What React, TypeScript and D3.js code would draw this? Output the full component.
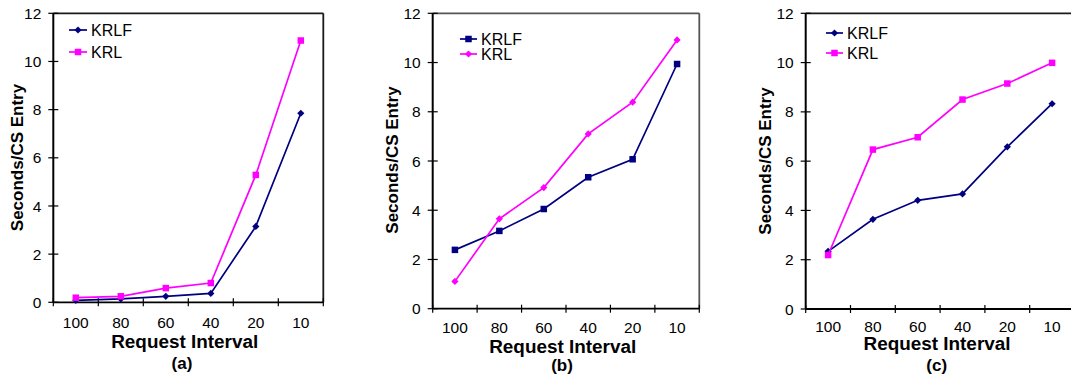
import React from "react";
import * as d3 from "d3";

const categories = ["100", "80", "60", "40", "20", "10"];
const yTicks = [0, 2, 4, 6, 8, 10, 12];
const seriesNames = ["KRLF", "KRL"];

const krlfA = [0.08, 0.14, 0.25, 0.37, 3.15, 7.85];
const krlA = [0.19, 0.25, 0.59, 0.8, 5.29, 10.87];
const krlfB = [2.39, 3.16, 4.05, 5.34, 6.07, 9.94];
const krlB = [1.11, 3.65, 4.92, 7.1, 8.39, 10.92];
const krlfC = [2.34, 3.64, 4.41, 4.67, 6.58, 8.33];
const krlC = [2.19, 6.47, 6.97, 8.5, 9.15, 9.99];

const captions = ["(a)", "(b)", "(c)"];

const NAVY = "#000080";
const MAGENTA = "#ff00ff";
const FONT = "'Liberation Sans', Arial, Helvetica, sans-serif";

type Layout = {
  x0: number; x1: number; y0: number; y1: number;
  frame: string; rightBorder: boolean;
  legX: number; legY: number[]; legLineW: number;
  tickBase: number; titleBase: number; titleX: number; capBase: number; capX: number;
  yLabX: number; yLabY: number;
  markers: string[];
};

const layouts: Layout[] = [
  { x0: 53.3, x1: 323.3, y0: 302.3, y1: 13.3, frame: "#1a1a1a", rightBorder: true,
    legX: 69, legY: [30, 52], legLineW: 18, tickBase: 328, titleBase: 347.5, titleX: 184.7,
    capBase: 369, capX: 182, yLabX: 16.7, yLabY: 157.5, markers: ["diamond", "square"] },
  { x0: 432.7, x1: 699.3, y0: 308.7, y1: 13.3, frame: "#555", rightBorder: true,
    legX: 460, legY: [39, 54], legLineW: 17, tickBase: 332.5, titleBase: 353, titleX: 562.7,
    capBase: 370.5, capX: 562, yLabX: 391.7, yLabY: 160, markers: ["square", "diamond"] },
  { x0: 805.7, x1: 1074.5, y0: 309, y1: 13.3, frame: "#1a1a1a", rightBorder: false,
    legX: 826, legY: [33, 53], legLineW: 17, tickBase: 332, titleBase: 350, titleX: 937,
    capBase: 371, capX: 936.7, yLabX: 765, yLabY: 161, markers: ["diamond", "square"] },
];

const panelData = [
  [krlfA, krlA],
  [krlfB, krlB],
  [krlfC, krlC],
];
const colors = [NAVY, MAGENTA];

function Marker({ kind, x, y, color }: { kind: string; x: number; y: number; color: string }) {
  if (kind === "square") {
    const s = 6.5;
    return <rect x={x - s / 2} y={y - s / 2} width={s} height={s} fill={color} />;
  }
  const r = 3.6;
  return (
    <path
      d={`M${x},${y - r}L${x + r},${y}L${x},${y + r}L${x - r},${y}Z`}
      fill={color}
    />
  );
}

function Panel({ idx }: { idx: number }) {
  const L = layouts[idx];
  const data = panelData[idx];
  const x = d3.scaleBand<string>().domain(categories).range([L.x0, L.x1]).padding(0);
  const y = d3.scaleLinear().domain([0, 12]).range([L.y0, L.y1]);
  const cx = (c: string) => (x(c) as number) + x.bandwidth() / 2;
  const line = d3
    .line<number>()
    .x((_, i) => cx(categories[i]))
    .y((d) => y(d));
  const bounds = [...categories.map((c) => x(c) as number), L.x1];

  return (
    <g fontFamily={FONT}>
      <line x1={L.x0} x2={Math.min(L.x1, 1071)} y1={L.y1} y2={L.y1} stroke={L.frame} strokeWidth={1.8} />
      {L.rightBorder && (
        <line x1={L.x1} x2={L.x1} y1={L.y1} y2={L.y0} stroke={L.frame} strokeWidth={1.8} />
      )}
      <line x1={L.x0} x2={L.x0} y1={L.y1} y2={L.y0} stroke="#000" strokeWidth={2} />
      <line x1={L.x0} x2={L.x1} y1={L.y0} y2={L.y0} stroke="#000" strokeWidth={1.8} />
      {yTicks.map((t) => (
        <g key={t}>
          <line x1={L.x0 - 5} x2={L.x0 + 5} y1={y(t)} y2={y(t)} stroke="#000" strokeWidth={1.2} />
          <text x={L.x0 - 12} y={y(t)} dy="0.36em" textAnchor="end" fontSize={15.5} fill="#000">
            {t}
          </text>
        </g>
      ))}
      {bounds.map((b, i) => (
        <line key={i} x1={b} x2={b} y1={L.y0 - 4} y2={L.y0 + 4} stroke="#000" strokeWidth={1.2} />
      ))}
      {categories.map((c) => (
        <text key={c} x={cx(c)} y={L.tickBase} textAnchor="middle" fontSize={15.5} fill="#000">
          {c}
        </text>
      ))}
      <text x={L.titleX} y={L.titleBase} textAnchor="middle" fontSize={17.5} fontWeight="bold"
        textLength={147} lengthAdjust="spacingAndGlyphs" fill="#000">
        Request Interval
      </text>
      <text x={L.capX} y={L.capBase} textAnchor="middle" fontSize={17} fontWeight="bold" fill="#000">
        {captions[idx]}
      </text>
      <text
        transform={`translate(${L.yLabX},${L.yLabY}) rotate(-90)`}
        textAnchor="middle"
        dy="0.36em"
        fontSize={17}
        fontWeight="bold"
        fill="#000"
      >
        Seconds/CS Entry
      </text>
      {data.map((vals, s) => (
        <g key={s}>
          <path d={line(vals) || ""} fill="none" stroke={colors[s]} strokeWidth={1.7} />
          {vals.map((v, i) => (
            <Marker key={i} kind={L.markers[s]} x={cx(categories[i])} y={y(v)} color={colors[s]} />
          ))}
        </g>
      ))}
      {seriesNames.map((n, s) => (
        <g key={n}>
          <line x1={L.legX} x2={L.legX + L.legLineW} y1={L.legY[s]} y2={L.legY[s]} stroke={colors[s]} strokeWidth={1.7} />
          <Marker kind={L.markers[s]} x={L.legX + L.legLineW / 2} y={L.legY[s]} color={colors[s]} />
          <text x={L.legX + L.legLineW + 4} y={L.legY[s]} dy="0.36em" fontSize={16} fill="#000">
            {n}
          </text>
        </g>
      ))}
    </g>
  );
}

export default function App() {
  return (
    <svg
      width={1071}
      height={378}
      style={{ position: "absolute", left: 0, top: 0, background: "#fff" }}
    >
      <rect width={1071} height={378} fill="#fff" />
      {layouts.map((_, i) => (
        <Panel key={i} idx={i} />
      ))}
    </svg>
  );
}
